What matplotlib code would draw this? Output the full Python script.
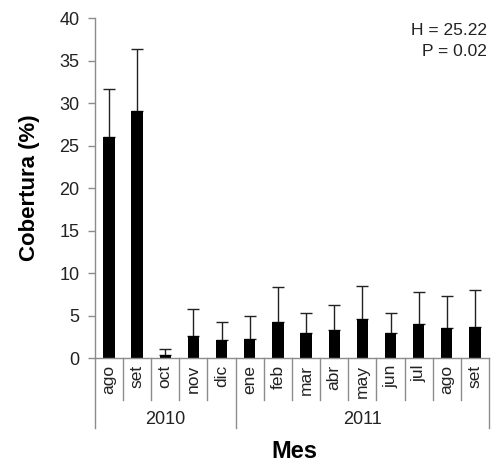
import matplotlib
matplotlib.use('Agg')
import matplotlib.pyplot as plt
from matplotlib.transforms import blended_transform_factory

plt.rcParams['font.family'] = ['Liberation Sans', 'DejaVu Sans']

months = ['ago', 'set', 'oct', 'nov', 'dic', 'ene', 'feb', 'mar', 'abr',
          'may', 'jun', 'jul', 'ago', 'set']
years = ['2010', '2011']
year_counts = [5, 9]
cover = [26.0, 29.1, 0.4, 2.6, 2.1, 2.2, 4.3, 2.9, 3.3, 4.6, 2.9, 4.0, 3.5, 3.7]
err = [5.7, 7.3, 0.7, 3.2, 2.2, 2.7, 4.1, 2.4, 2.9, 3.9, 2.4, 3.8, 3.8, 4.3]

gray = '#8c8c8c'


def draw_chart(fname):
    fig = plt.figure(figsize=(4.94, 4.65), dpi=100)
    ax = fig.add_axes([0.192, 0.230, 0.798, 0.731])

    x = list(range(len(months)))
    ax.bar(x, cover, width=0.4, color='black', zorder=2)
    ax.errorbar(x, cover, yerr=[[0] * len(err), err], fmt='none',
                ecolor='#222222', elinewidth=1, capsize=4, capthick=1, zorder=1)

    ax.set_xlim(-0.5, len(months) - 0.5)
    ax.set_ylim(0, 40)
    ax.set_yticks(range(0, 41, 5))
    ax.tick_params(axis='y', labelsize=13, length=5, color=gray, width=1,
                   pad=6, labelcolor='#222222')
    ax.set_xticks(x)
    ax.set_xticklabels(months, rotation=90, fontsize=12.5, color='#222222')
    ax.tick_params(axis='x', length=0, pad=5)

    for s in ['top', 'right']:
        ax.spines[s].set_visible(False)
    for s in ['left', 'bottom']:
        ax.spines[s].set_color(gray)
        ax.spines[s].set_linewidth(1)

    # category separators below the axis
    tr = blended_transform_factory(ax.transData, ax.transAxes)
    bounds = [-0.5]
    for c in year_counts:
        bounds.append(bounds[-1] + c)
    for i in range(len(months) + 1):
        xs = i - 0.5
        bottom = -0.206 if xs in bounds else -0.124
        ax.plot([xs, xs], [0, bottom], color=gray, lw=1, transform=tr,
                clip_on=False)

    for k, yr in enumerate(years):
        mid = (bounds[k] + bounds[k + 1]) / 2
        ax.text(mid, -0.18, yr, transform=tr, ha='center', va='center',
                fontsize=13, color='#222222')

    ax.set_ylabel('Cobertura (%)', fontsize=16, fontweight='bold', labelpad=14)
    fig.text(0.595, 0.004, 'Mes', ha='center', va='bottom', fontsize=17,
             fontweight='bold')

    ax.text(0.995, 0.985, 'H = 25.22\nP = 0.02', transform=ax.transAxes,
            ha='right', va='top', fontsize=12.5, color='#222222',
            linespacing=1.45)

    plt.savefig(fname, dpi=100)


def main():
    draw_chart('out.png')


if __name__ == '__main__':
    main()
